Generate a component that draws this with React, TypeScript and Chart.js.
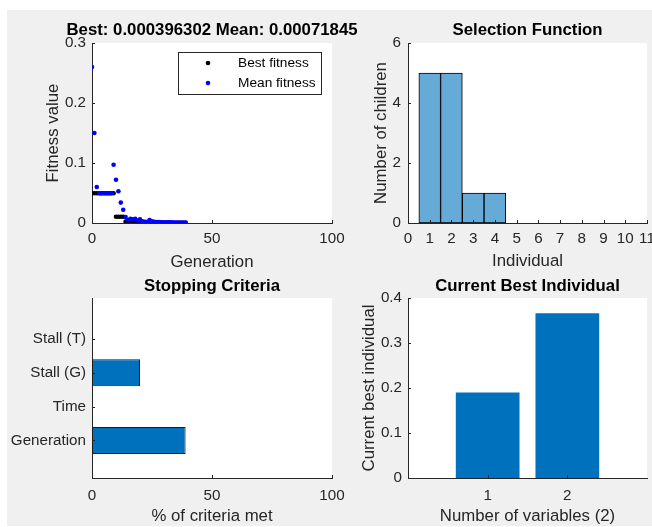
import React, { useEffect, useRef } from "react";
import { Chart, registerables } from "chart.js";
Chart.register(...registerables);

// ---------- data ----------
const generations = [
  0, 1, 2, 3, 4, 5, 6, 7, 8, 9, 10, 11, 12, 13, 14, 15, 16, 17, 18, 19,
  20, 21, 22, 23, 24, 25, 26, 27, 28, 29, 30, 31, 32, 33, 34, 35, 36, 37, 38, 39,
];
const bestFitness = [
  0.0495, 0.0495, 0.0495, 0.0495, 0.0495, 0.0495, 0.0495, 0.0495, 0.0495, 0.0495,
  0.0105, 0.0105, 0.0105, 0.0105, 0.0025, 0.002, 0.0015, 0.0015, 0.0012, 0.001,
  0.0009, 0.0009, 0.0008, 0.0008, 0.0007, 0.0007, 0.0006, 0.0006, 0.0006, 0.0005,
  0.0005, 0.0005, 0.00045, 0.00045, 0.00042, 0.00042, 0.0004, 0.0004, 0.0004, 0.000396302,
];
const meanFitness = [
  0.26, 0.15, 0.06, 0.0495, 0.0495, 0.0495, 0.0495, 0.0495, 0.0495, 0.097,
  0.072, 0.053, 0.034, 0.022, 0.01, 0.005, 0.007, 0.006, 0.007, 0.004,
  0.006, 0.003, 0.002, 0.002, 0.005, 0.003, 0.002, 0.0015, 0.0015, 0.0012,
  0.0012, 0.001, 0.001, 0.001, 0.0009, 0.0009, 0.0008, 0.0008, 0.00075, 0.00071845,
];
const fitnessTitle = "Best: 0.000396302 Mean: 0.00071845";

const individuals = [1, 2, 3, 4, 5, 6, 7, 8, 9, 10];
const childrenCount = [5, 5, 1, 1, 0, 0, 0, 0, 0, 0];

const criteriaLabels = ["Generation", "Time", "Stall (G)", "Stall (T)"];
const criteriaMet = [39, 0, 20, 0];

const variableIndex = [1, 2];
const bestIndividual = [0.19, 0.366];

// ---------- style ----------
const W = 652;
const H = 527;
const FONT = "'Liberation Sans', Arial, Helvetica, sans-serif";
const TICK_SIZE = 15.2;
const LABEL_SIZE = 16.8;
const TITLE_SIZE = 16.8;
const LEGEND_SIZE = 13.7;
const AXIS_COLOR = "#262626";
const TITLE_LH = TITLE_SIZE * 1.2;

const whiteArea = {
  id: "whiteArea",
  beforeDraw(chart: any) {
    const { ctx, chartArea: a } = chart;
    ctx.save();
    ctx.fillStyle = "#ffffff";
    ctx.fillRect(a.left, a.top, a.right - a.left, a.bottom - a.top);
    ctx.restore();
  },
};

const inwardTicks = {
  id: "inwardTicks",
  afterDraw(chart: any) {
    const { ctx, chartArea: a } = chart;
    ctx.save();
    ctx.strokeStyle = AXIS_COLOR;
    ctx.lineWidth = 1;
    ctx.beginPath();
    Object.values(chart.scales).forEach((s: any) => {
      if (s.options.border && s.options.border.display === false) return;
      s.ticks.forEach((t: any) => {
        const p = s.getPixelForValue(t.value);
        if (s.isHorizontal()) {
          const x = Math.round(p) + 0.5;
          ctx.moveTo(x, a.bottom);
          ctx.lineTo(x, a.bottom - 3);
        } else {
          const y = Math.round(p) + 0.5;
          ctx.moveTo(a.left, y);
          ctx.lineTo(a.left + 3, y);
        }
      });
    });
    ctx.stroke();
    ctx.restore();
  },
};

function xAxis(opts: any) {
  const { height, tickPad, step, title, titlePadBottom, ...rest } = opts;
  return {
    type: "linear",
    position: "bottom",
    offset: false,
    z: 1,
    grid: { display: false, drawTicks: false },
    border: { display: true, color: AXIS_COLOR, width: 1 },
    ticks: {
      color: AXIS_COLOR,
      font: { family: FONT, size: TICK_SIZE },
      padding: tickPad,
      maxRotation: 0,
      autoSkip: false,
      stepSize: step,
    },
    title: title
      ? {
          display: true,
          text: title,
          color: AXIS_COLOR,
          font: { family: FONT, size: LABEL_SIZE },
          padding: { top: 0, bottom: titlePadBottom },
        }
      : { display: false },
    afterFit(s: any) {
      s.height = height;
      s.paddingLeft = 0;
      s.paddingRight = 0;
    },
    ...rest,
  };
}

function yAxis(opts: any) {
  const { width, tickPad, step, callback, title, titlePadTop, ...rest } = opts;
  const ticks: any = {
    color: AXIS_COLOR,
    font: { family: FONT, size: TICK_SIZE },
    padding: tickPad,
    autoSkip: false,
    stepSize: step,
  };
  if (callback) ticks.callback = callback;
  return {
    type: "linear",
    position: "left",
    offset: false,
    z: 1,
    grid: { display: false, drawTicks: false },
    border: { display: true, color: AXIS_COLOR, width: 1 },
    ticks,
    title: title
      ? {
          display: true,
          text: title,
          color: AXIS_COLOR,
          font: { family: FONT, size: LABEL_SIZE },
          padding: { top: titlePadTop, bottom: 0 },
        }
      : { display: false },
    afterFit(s: any) {
      s.width = width;
      s.paddingTop = 0;
      s.paddingBottom = 0;
    },
    ...rest,
  };
}

// invisible spacer axis (keeps a wide title centred over its axes)
function spacerAxis(width: number) {
  return {
    type: "linear",
    position: "right",
    display: true,
    grid: { display: false, drawTicks: false },
    border: { display: false },
    ticks: { display: false },
    afterFit(s: any) {
      s.width = width;
      s.paddingTop = 0;
      s.paddingBottom = 0;
    },
  };
}

function titleOpts(text: string, centerY: number, areaTop: number, fullSize: boolean) {
  const pt = centerY - TITLE_LH / 2;
  const pb = areaTop - pt - TITLE_LH;
  return {
    display: true,
    text,
    color: "#000000",
    fullSize,
    font: { family: FONT, size: TITLE_SIZE, weight: "bold" },
    padding: { top: pt, bottom: pb },
  };
}

function baseOptions(extra: any) {
  return {
    responsive: false,
    animation: false,
    devicePixelRatio: 1,
    events: [],
    ...extra,
    plugins: {
      legend: { display: false },
      tooltip: { enabled: false },
      ...extra.plugins,
    },
  };
}

// Plot 1: fitness
function fitnessConfig() {
  const legendPlugin = {
    id: "fitLegend",
    afterDraw(chart: any) {
      const { ctx, chartArea: a } = chart;
      const bx = a.left + 86, by = a.top + 9, bw = 143, bh = 42;
      ctx.save();
      ctx.fillStyle = "#ffffff";
      ctx.fillRect(bx, by, bw, bh);
      ctx.strokeStyle = AXIS_COLOR;
      ctx.lineWidth = 1;
      ctx.strokeRect(Math.round(bx) + 0.5, Math.round(by) + 0.5, bw, bh);
      chart.data.datasets
        .slice()
        .sort((p: any, q: any) => p.legendRow - q.legendRow)
        .forEach((ds: any, i: number) => {
          const cy = by + 11 + i * 20;
          ctx.fillStyle = ds.backgroundColor;
          ctx.beginPath();
          ctx.arc(bx + 30, cy, 2.3, 0, Math.PI * 2);
          ctx.fill();
          ctx.fillStyle = "#000000";
          ctx.font = `${LEGEND_SIZE}px ${FONT}`;
          ctx.textBaseline = "middle";
          ctx.textAlign = "left";
          ctx.fillText(ds.label, bx + 60, cy);
        });
      ctx.restore();
    },
  };
  return {
    type: "scatter",
    data: {
      datasets: [
        {
          label: "Best fitness",
          legendRow: 0,
          order: 2,
          data: generations.map((g, i) => ({ x: g, y: bestFitness[i] })),
          backgroundColor: "#000000",
          borderWidth: 0,
          pointRadius: 2.3,
        },
        {
          label: "Mean fitness",
          legendRow: 1,
          order: 1,
          data: generations.map((g, i) => ({ x: g, y: meanFitness[i] })),
          backgroundColor: "#0000ff",
          borderWidth: 0,
          pointRadius: 2.3,
        },
      ],
    },
    options: baseOptions({
      // full-size title spans 0..424 -> centred at 212 (centre of the axes)
      layout: { padding: { left: 0, right: W - 424, top: 0, bottom: H - 223 - 50 } },
      scales: {
        x: xAxis({ height: 50, tickPad: 7, step: 50, title: "Generation", titlePadBottom: 1, min: 0, max: 100 }),
        y: yAxis({ width: 92, tickPad: 6, step: 0.1, title: "Fitness value", titlePadTop: 43.2, min: 0, max: 0.3 }),
        yr: spacerAxis(424 - 332),
      },
      plugins: { title: titleOpts(fitnessTitle, 30.5, 43, true) },
    }),
    plugins: [whiteArea, inwardTicks, legendPlugin],
  };
}

// Plot 2: selection histogram
function selectionConfig() {
  return {
    type: "bar",
    data: {
      datasets: [
        {
          data: individuals.map((v, i) => ({ x: v, y: childrenCount[i] })),
          backgroundColor: "rgb(102,170,215)",
          borderColor: "#000000",
          borderWidth: 1,
          borderSkipped: false,
          categoryPercentage: 1,
          barPercentage: 1,
        },
      ],
    },
    options: baseOptions({
      layout: { padding: { left: 360, right: W - 647, top: 0, bottom: H - 223 - 50 } },
      scales: {
        x: xAxis({ height: 50, tickPad: 7, step: 1, title: "Individual", titlePadBottom: 2, min: 0, max: 11 }),
        y: yAxis({ width: 48, tickPad: 7, step: 2, title: "Number of children", titlePadTop: 11.4, min: 0, max: 6 }),
      },
      plugins: { title: titleOpts("Selection Function", 30.5, 43, false) },
    }),
    plugins: [whiteArea, inwardTicks],
  };
}

// Plot 3: stopping criteria
function stoppingConfig() {
  return {
    type: "bar",
    data: {
      datasets: [
        {
          data: criteriaMet.map((v, i) => ({ x: v, y: i + 1 })),
          backgroundColor: "#0072bd",
          borderColor: "#1a1a1a",
          borderWidth: 1,
          borderSkipped: false,
          categoryPercentage: 1,
          barPercentage: 0.8,
        },
      ],
    },
    options: baseOptions({
      indexAxis: "y",
      layout: { padding: { left: 0, right: W - 332, top: 0, bottom: 0 } },
      scales: {
        x: xAxis({ height: H - 478, tickPad: 9, step: 50, title: "% of criteria met", titlePadBottom: 0.5, min: 0, max: 100 }),
        y: yAxis({
          width: 92,
          tickPad: 6,
          min: -0.11,
          max: 5.21,
          callback: (v: number) => criteriaLabels[Math.round(v) - 1] ?? "",
          afterBuildTicks(s: any) {
            s.ticks = criteriaLabels.map((_, i) => ({ value: i + 1 }));
          },
        }),
      },
      plugins: { title: titleOpts("Stopping Criteria", 286, 298, false) },
    }),
    plugins: [whiteArea, inwardTicks],
  };
}

// Plot 4: current best individual
function bestIndividualConfig() {
  return {
    type: "bar",
    data: {
      datasets: [
        {
          data: variableIndex.map((v, i) => ({ x: v, y: bestIndividual[i] })),
          backgroundColor: "#0072bd",
          borderWidth: 0,
          categoryPercentage: 1,
          barPercentage: 0.8,
        },
      ],
    },
    options: baseOptions({
      layout: { padding: { left: 348, right: W - 647, top: 0, bottom: 0 } },
      scales: {
        x: xAxis({
          height: H - 478,
          tickPad: 9,
          title: "Number of variables (2)",
          titlePadBottom: 0.5,
          min: 0,
          max: 3,
          afterBuildTicks(s: any) {
            s.ticks = variableIndex.map((v) => ({ value: v }));
          },
        }),
        y: yAxis({ width: 60, tickPad: 6, step: 0.1, title: "Current best individual", titlePadTop: 10.9, min: 0, max: 0.4 }),
      },
      plugins: { title: titleOpts("Current Best Individual", 286, 298, false) },
    }),
    plugins: [whiteArea, inwardTicks],
  };
}

const CONFIGS = [fitnessConfig(), selectionConfig(), stoppingConfig(), bestIndividualConfig()];

function Layer({ config }: { config: any }) {
  const ref = useRef<HTMLCanvasElement | null>(null);
  useEffect(() => {
    if (!ref.current) return;
    const chart = new Chart(ref.current, config);
    return () => chart.destroy();
  }, [config]);
  return (
    <canvas
      ref={ref}
      width={W}
      height={H}
      style={{ position: "absolute", left: 0, top: 0, width: W, height: H }}
    />
  );
}

export default function App() {
  return (
    <div style={{ position: "absolute", left: 0, top: 0, width: W, height: H, background: "#ffffff", overflow: "hidden" }}>
      <div style={{ position: "absolute", left: 7, top: 10, width: W - 7, height: 516, background: "#f0f0f0" }} />
      {CONFIGS.map((c, i) => (
        <Layer key={i} config={c} />
      ))}
    </div>
  );
}
